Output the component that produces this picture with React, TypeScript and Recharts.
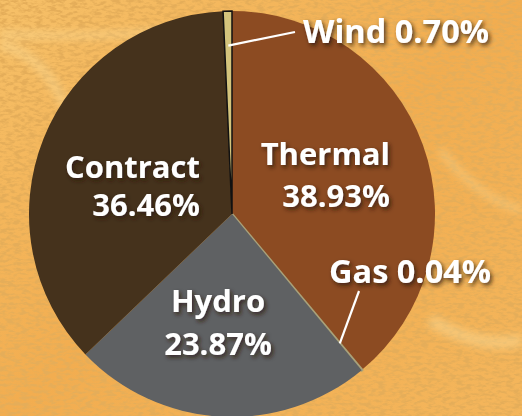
import React from "react";
import { PieChart, Pie, Cell } from "recharts";

// generation mix, clockwise from 12 o'clock
const names = ["Thermal", "Gas", "Hydro", "Contract", "Wind"];
const shares = [38.93, 0.04, 23.87, 36.46, 0.7];
const labels = ["38.93%", "0.04%", "23.87%", "36.46%", "0.70%"];
const colors = ["#8c4b22", "#a9a27a", "#5f6163", "#45321c", "#d4c47c"];

const W = 522;
const H = 416;
const CX = 232;
const CY = 214;
const R = 203;

const FONT = "'Open Sans', 'DejaVu Sans', sans-serif";

// label placement relative to pie centre
const labelLayout: Record<string, { dx: number; dy: number; anchor: "start" | "middle" | "end"; gap: number; size: number; leader?: [number, number] }> = {
  Thermal: { dx: 158, dy: -49, anchor: "end", gap: 42, size: 31 },
  Contract: { dx: -32, dy: -36, anchor: "end", gap: 38, size: 31 },
  Hydro: { dx: -14, dy: 98, anchor: "middle", gap: 43, size: 31 },
  Wind: { dx: 71, dy: -171, anchor: "start", gap: 0, size: 32.5, leader: [63, -182] },
  Gas: { dx: 97, dy: 69, anchor: "start", gap: 0, size: 32.5, leader: [127, 77] },
};

const data = names.map((name, i) => ({ name, value: shares[i], pct: labels[i] }));

const RADIAN = Math.PI / 180;

function renderLabel(props: any) {
  const { cx, cy, midAngle, outerRadius, name, payload } = props;
  const cfg = labelLayout[name];
  if (!cfg) return null;
  const pct = payload?.pct ?? props.pct;
  const x = cx + cfg.dx;
  const y = cy + cfg.dy;
  let leader = null;
  if (cfg.leader) {
    const r0 = outerRadius * 0.83;
    const sx = cx + r0 * Math.cos(-midAngle * RADIAN);
    const sy = cy + r0 * Math.sin(-midAngle * RADIAN);
    leader = (
      <line x1={sx} y1={sy} x2={cx + cfg.leader[0]} y2={cy + cfg.leader[1]} stroke="#fff" strokeWidth={2.2} />
    );
  }
  const textStyle = { fontFamily: FONT, fontWeight: 700, fontSize: cfg.size };
  return (
    <g>
      {leader}
      <g filter="url(#txtShadow)">
        {cfg.gap > 0 ? (
          <text x={x} y={y} textAnchor={cfg.anchor} fill="#fff" style={textStyle}>
            <tspan x={x} dy={0}>{name}</tspan>
            <tspan x={x} dy={cfg.gap}>{pct}</tspan>
          </text>
        ) : (
          <text x={x} y={y} textAnchor={cfg.anchor} fill="#fff" style={textStyle}>
            {name} {pct}
          </text>
        )}
      </g>
    </g>
  );
}

function Background() {
  return (
    <svg width={W} height={H} style={{ position: "absolute", left: 0, top: 0 }}>
      <defs>
        <linearGradient id="bgGrad" x1="0" y1="0" x2="1" y2="1">
          <stop offset="0%" stopColor="#f6c068" />
          <stop offset="50%" stopColor="#f2ad50" />
          <stop offset="100%" stopColor="#f4b65c" />
        </linearGradient>
        <filter id="tex" x="0" y="0" width="100%" height="100%" filterUnits="userSpaceOnUse">
          <feTurbulence type="fractalNoise" baseFrequency="0.14 0.32" numOctaves={3} seed={7} result="n" />
          <feColorMatrix
            in="n"
            type="matrix"
            values="0 0 0 0 0.78  0 0 0 0 0.42  0 0 0 0 0.10  4 0 0 0 -1.7"
          />
        </filter>
        <filter id="soft">
          <feGaussianBlur stdDeviation={4} />
        </filter>
      </defs>
      <rect width={W} height={H} fill="url(#bgGrad)" />
      <rect x={0} y={0} width={W} height={H} fill="#000" filter="url(#tex)" />
      <g filter="url(#soft)" opacity={0.4} fill="none" stroke="#fde6a8">
        <path d="M0 34 Q 120 40 260 22" strokeWidth={7} />
        <path d="M0 45 Q 50 55 75 130" strokeWidth={9} />
        <path d="M430 320 Q 480 350 522 340" strokeWidth={12} />
        <path d="M440 150 Q 480 200 522 210" strokeWidth={6} />
      </g>
    </svg>
  );
}

export default function App() {
  return (
    <div style={{ position: "fixed", left: 0, top: 0, width: W, height: H, overflow: "hidden" }}>
      <Background />
      <div style={{ position: "absolute", left: 0, top: 0 }}>
        <PieChart width={W} height={H} margin={{ top: 0, right: 0, bottom: 0, left: 0 }}>
          <defs>
            <filter id="txtShadow" x="-20%" y="-40%" width="140%" height="180%">
              <feDropShadow dx={2} dy={2.5} stdDeviation={2.2} floodColor="#2a1a0a" floodOpacity={0.8} />
            </filter>
          </defs>
          <Pie
            data={data}
            dataKey="value"
            nameKey="name"
            cx={CX}
            cy={CY}
            outerRadius={R}
            startAngle={90}
            endAngle={-270}
            label={renderLabel}
            labelLine={false}
            isAnimationActive={false}
          >
            {data.map((d, i) => (
              <Cell
                key={d.name}
                fill={colors[i]}
                stroke={d.name === "Wind" ? "#111" : d.name === "Gas" ? colors[i] : "none"}
                strokeWidth={d.name === "Wind" ? 1.5 : d.name === "Gas" ? 2.5 : 0}
              />
            ))}
          </Pie>
        </PieChart>
      </div>
    </div>
  );
}
